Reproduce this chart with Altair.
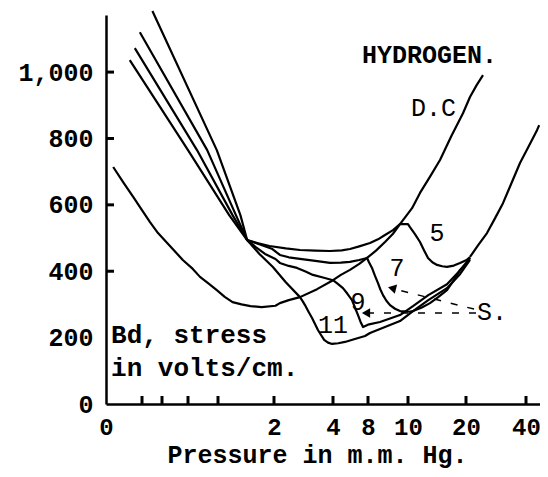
import altair as alt
import pandas as pd

# ---------------- axis values ----------------
x_major = [0, 2, 4, 8, 10, 20, 40]
x_minor = [0.5, 0.75, 1, 1.5]
y_labels = [0, 200, 400, 600, 800, 1000]
y_tick_marks = [400, 600, 800, 1000]
# the printed pressure axis is not uniform: piecewise scale
x_scale_domain = [0, 0.5, 0.75, 1, 1.5, 2, 4, 8, 10, 20, 40, 50]
x_scale_range = [0, 36, 56, 82, 112, 168, 227, 262, 302, 360, 420, 450]

# ---------------- curves (pressure mm Hg, stress V/cm) ----------------
dc_p = [0.10, 0.24, 0.38, 0.50, 0.60, 0.70, 0.80, 0.95, 1.08, 1.20, 1.35, 1.48, 1.56, 1.63,
        1.71, 1.79, 1.89, 2.05, 2.20, 2.50, 2.88, 3.46, 4.00, 4.90,
        5.94, 7.00, 7.89, 8.40, 8.85, 9.25, 9.60, 10.7, 12.07, 13.8, 15.52, 17.5, 19.48,
        21.33, 23.5, 25.67]
dc_v = [714, 668, 623, 584, 548, 515, 485, 434, 407, 383, 362, 343, 323, 307,
        300, 295, 292, 296, 304, 313, 322, 346, 373, 389,
        404, 422, 440, 462, 488, 513, 542, 590, 636, 685, 735, 808, 876,
        925, 960, 991]

r_p = [21.33, 24.0, 27.0, 29.7, 32.33, 35.0, 38.0, 41.0, 43.67, 44.4]
r_v = [443, 478, 515, 560, 605, 662, 726, 778, 825, 840]

c5_p = [0.33, 1.00, 1.60, 1.76, 1.86, 1.96, 2.40, 2.88, 3.40, 3.90, 5.00, 5.94, 7.00,
        8.10, 8.50, 8.85, 9.25, 9.60, 10.0, 10.34, 11.2, 12.07, 12.8, 13.45, 14.2,
        15.00, 15.9, 16.72, 17.9, 18.97, 20.2, 21.33]
c5_v = [1036, 765, 569, 494, 484, 476, 469, 464, 462, 461, 463, 467, 475,
        485, 496, 509, 524, 542, 542, 533, 512, 488, 462, 440, 427,
        419, 415, 413, 417, 425, 434, 443]

c7_p = [0.40, 1.15, 1.63, 1.76, 1.98, 2.20, 2.50, 2.88, 3.40, 3.90, 4.90, 5.94, 7.00,
        7.89, 8.05, 8.20, 8.35, 8.50, 8.62, 8.75, 8.92, 9.10, 9.35, 9.60, 10.2,
        10.86, 12.3, 13.79, 15.2, 16.72, 17.9, 18.97, 20.2, 21.33]
c7_v = [1072, 765, 569, 494, 468, 449, 442, 437, 431, 425, 426, 428, 434,
        440, 427, 410, 386, 364, 345, 328, 311, 298, 287, 280, 278,
        280, 290, 304, 322, 343, 373, 404, 424, 440]

c9_p = [0.47, 1.32, 1.66, 1.76, 1.84, 1.92, 2.05, 2.20, 2.50, 2.78, 3.05, 3.32, 3.66,
        4.00, 4.55, 5.14, 5.65, 6.17, 6.52, 6.86, 7.14, 7.43, 8.00, 8.60, 9.6,
        10.86, 13.5, 16.72, 19.0, 21.33]
c9_v = [1120, 765, 569, 494, 472, 452, 437, 425, 416, 410, 400, 389, 381,
        373, 362, 349, 332, 313, 290, 268, 248, 232, 239, 247, 268,
        295, 328, 361, 403, 440]

c11_p = [0.63, 1.48, 1.70, 1.76, 1.87, 1.99, 2.40, 2.88, 2.97, 3.05, 3.17, 3.29, 3.39,
         3.49, 3.60, 3.70, 3.83, 3.97, 4.60, 5.37, 6.50, 7.66, 8.10, 8.60, 9.6,
         10.86, 13.5, 16.72, 19.0, 21.33]
c11_v = [1184, 765, 569, 494, 452, 413, 367, 322, 310, 298, 278, 259, 241,
         223, 207, 193, 185, 181, 183, 187, 196, 205, 214, 226, 250,
         280, 313, 349, 392, 434]

# ---------------- annotations ----------------
arrow_from_p = [23.33, 22.67]
arrow_from_v = [274, 286]
arrow_to_p = [8.0, 9.35]
arrow_to_v = [274, 346]
head_p = [7.77, 9.2]
head_v = [274, 349]
head_angle = [0, 14]

bold_text = ["HYDROGEN.", "Bd, stress", "in volts/cm."]
bold_p = [7.31, 0.07, 0.07]
bold_v = [1051, 208, 108]
bold_size = [25, 26, 26]

plain_left_text = ["D.C", "S."]
plain_left_p = [10.52, 23.67]
plain_left_v = [892, 277]

num_text = ["5", "7", "9", "11"]
num_p = [15.0, 9.45, 6.86, 4.0]
num_v = [515, 410, 307, 238]

FONT = "Liberation Mono"

rows = []
for name, ps, vs in [("D.C", dc_p, dc_v), ("R", r_p, r_v), ("5", c5_p, c5_v),
                     ("7", c7_p, c7_v), ("9", c9_p, c9_v), ("11", c11_p, c11_v)]:
    for i, (p, v) in enumerate(zip(ps, vs)):
        rows.append({"curve": name, "p": p, "v": v, "i": i})
curves = pd.DataFrame(rows)

xs = alt.Scale(domain=x_scale_domain, range=x_scale_range, nice=False, zero=False)
ys = alt.Scale(domain=[0, 1172], nice=False, zero=False)

xaxis = alt.Axis(values=x_major, title="Pressure in m.m. Hg.", ticks=False, tickSize=0,
                 grid=False, domainColor="black", domainWidth=2.5,
                 labelFont=FONT, labelFontSize=24, labelFontWeight="bold", labelColor="black",
                 labelPadding=11, labelFlush=False, labelOverlap=False,
                 titleFont=FONT, titleFontSize=25, titleFontWeight="bold", titleColor="black",
                 titleBaseline="alphabetic", titleX=211, titleY=58)
yaxis = alt.Axis(values=y_labels, format=",d", title=None, ticks=False, tickSize=0,
                 grid=False, domainColor="black", domainWidth=2.5,
                 labelFont=FONT, labelFontSize=25, labelFontWeight="bold", labelColor="black",
                 labelPadding=13, labelOverlap=False, labelFlush=False)


def X(field="p"):
    return alt.X(field, type="quantitative", scale=xs, axis=xaxis)


def Y(field="v"):
    return alt.Y(field, type="quantitative", scale=ys, axis=yaxis)


lines = alt.Chart(curves).mark_line(color="black", strokeWidth=2.2, interpolate="linear",
                                    strokeJoin="round", clip=False).encode(
    x=X(), y=Y(), detail="curve:N", order="i:Q")

xt = pd.DataFrame({"p": x_minor + x_major[1:]})
xtick = alt.Chart(xt).mark_rule(color="black", strokeWidth=3).encode(
    x=X(), y=alt.value(389), y2=alt.value(381))

yt = pd.DataFrame({"v": y_tick_marks})
ytick = alt.Chart(yt).mark_rule(color="black", strokeWidth=3).encode(
    y=Y(), x=alt.value(0), x2=alt.value(8))

arr = pd.DataFrame({"p": arrow_from_p, "v": arrow_from_v, "p2": arrow_to_p, "v2": arrow_to_v})
dashes = alt.Chart(arr).mark_rule(color="black", strokeWidth=1.5, strokeDash=[7, 10]).encode(
    x=X(), y=Y(), x2="p2:Q", y2="v2:Q")

heads = pd.DataFrame({"p": head_p, "v": head_v, "a": head_angle})
heads_m = alt.Chart(heads).mark_point(shape="triangle-left", filled=True, color="black",
                                      size=90, opacity=1).encode(
    x=X(), y=Y(), angle=alt.Angle("a:Q", scale=None))

tb = pd.DataFrame({"p": bold_p, "v": bold_v, "t": bold_text, "s": bold_size})
tbold = alt.Chart(tb).mark_text(font=FONT, fontWeight="bold", align="left",
                                baseline="middle", color="black").encode(
    x=X(), y=Y(), text="t:N", size=alt.Size("s:Q", scale=None, legend=None))

tl = pd.DataFrame({"p": plain_left_p, "v": plain_left_v, "t": plain_left_text})
tleft = alt.Chart(tl).mark_text(font=FONT, fontSize=25, align="left",
                                baseline="middle", color="black").encode(x=X(), y=Y(), text="t:N")

tn = pd.DataFrame({"p": num_p, "v": num_v, "t": num_text})
tnum = alt.Chart(tn).mark_text(font=FONT, fontSize=25, align="center",
                               baseline="middle", color="black").encode(x=X(), y=Y(), text="t:N")

chart = alt.layer(lines, xtick, ytick, dashes, heads_m, tbold, tleft, tnum).properties(
    width=434, height=389,
    padding={"left": 98, "top": 7, "right": 0, "bottom": 65},
    autosize=alt.AutoSizeParams(type="none"),
    background="white",
).configure_view(stroke=None)

chart.save("out.html", embed_options={"renderer": "svg", "actions": False})
